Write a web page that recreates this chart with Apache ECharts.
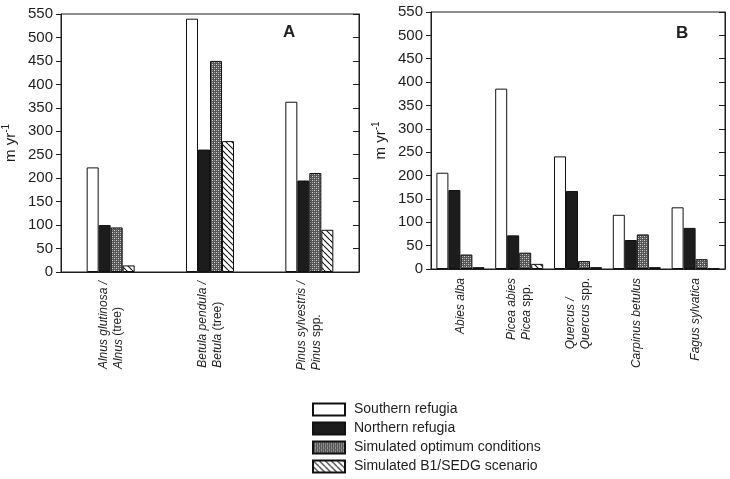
<!DOCTYPE html>
<html>
<head>
<meta charset="utf-8">
<script src="https://cdn.jsdelivr.net/npm/echarts@6/dist/echarts.min.js"></script>
<style>
  html, body { margin: 0; padding: 0; background: #fff; }
  #chart { width: 730px; height: 479px; }
</style>
</head>
<body>
<div id="chart"></div>
<script>
// Panel A: tree taxa
const catsA = [
  "{i|Alnus glutinosa /}\n{i|Alnus }{n|(tree)}",
  "{i|Betula pendula /}\n{i|Betula }{n|(tree)}",
  "{i|Pinus sylvestris /}\n{i|Pinus }{n|spp.}",
];
const southernA = [223, 540, 363];
const northernA = [100, 261, 195];
const optimumA = [95, 450, 211];
const b1A = [14, 279, 90];

// Panel B: forest taxa
const catsB = [
  "{i|Abies alba}",
  "{i|Picea abies}\n{i|Picea }{n|spp.}",
  "{i|Quercus /}\n{i|Quercus }{n|spp.}",
  "{i|Carpinus betulus}",
  "{i|Fagus sylvatica}",
];
const southernB = [206, 386, 241, 116, 132];
const northernB = [169, 72, 167, 62, 88];
const optimumB = [31, 35, 17, 74, 21];
const b1B = [4, 11, 4, 4, 1];

const seriesNames = [
  "Southern refugia",
  "Northern refugia",
  "Simulated optimum conditions",
  "Simulated B1/SEDG scenario",
];
const yTicks = { min: 0, max: 550, interval: 50 };

const FONT = "'Liberation Sans', Arial, sans-serif";
const INK = "#1e1e1e";

// fill patterns for the two simulated series
function makeDots() {
  const c = document.createElement("canvas");
  c.width = 4; c.height = 4;
  const ctx = c.getContext("2d");
  ctx.fillStyle = "#555555";
  ctx.fillRect(0, 0, 4, 4);
  ctx.fillStyle = "#d8d8d8";
  ctx.fillRect(0, 0, 1, 1);
  ctx.fillRect(2, 2, 1, 1);
  ctx.fillStyle = "#9a9a9a";
  ctx.fillRect(2, 0, 1, 1);
  ctx.fillRect(0, 2, 1, 1);
  return c;
}
function makeHatch() {
  const s = 6;
  const c = document.createElement("canvas");
  c.width = s; c.height = s;
  const ctx = c.getContext("2d");
  ctx.fillStyle = "#fff";
  ctx.fillRect(0, 0, s, s);
  ctx.strokeStyle = "#111";
  ctx.lineWidth = 1.1;
  [-s, 0, s].forEach((x0) => {
    ctx.beginPath();
    ctx.moveTo(x0, 0);
    ctx.lineTo(x0 + s, s);
    ctx.stroke();
  });
  return c;
}

const fills = [
  "#ffffff",
  "#1c1c1c",
  { image: makeDots(), repeat: "repeat" },
  { image: makeHatch(), repeat: "repeat" },
];

const grids = [
  { left: 61, top: 14, width: 298, height: 258 },
  { left: 431, top: 12, width: 294, height: 257 },
];

const chart = echarts.init(document.getElementById("chart"), null, { renderer: "canvas" });

const labelRich = {
  i: { fontStyle: "italic", fontSize: 12, fontFamily: FONT, color: INK, align: "left", lineHeight: 15 },
  n: { fontStyle: "normal", fontSize: 12, fontFamily: FONT, color: INK, align: "left", lineHeight: 15 },
};

const xAxes = [catsA, catsB].map((cats, gi) => ({
  type: "category",
  gridIndex: gi,
  data: cats,
  axisLine: { lineStyle: { color: INK, width: 1 } },
  axisTick: { show: false },
  axisLabel: {
    rotate: 90,
    interval: 0,
    margin: 9,
    rich: labelRich,
    fontFamily: FONT,
    fontSize: 12,
    color: INK,
  },
  splitLine: { show: false },
}));

const yAxes = [];
[0, 1].forEach((gi) => {
  yAxes.push({
    type: "value",
    gridIndex: gi,
    position: "left",
    ...yTicks,
    name: "m yr{sup|-1}",
    nameLocation: "middle",
    nameGap: 40,
    nameTextStyle: {
      fontFamily: FONT,
      fontSize: 15,
      color: INK,
      rich: {
        sup: { fontSize: 10, fontFamily: FONT, color: INK, verticalAlign: "top", lineHeight: 20 },
      },
    },
    axisLine: { show: true, lineStyle: { color: INK, width: 1 } },
    axisTick: { show: true, inside: false, length: 5, lineStyle: { color: INK } },
    axisLabel: { fontFamily: FONT, fontSize: 15, color: INK, margin: 8 },
    splitLine: { show: false },
  });
  yAxes.push({
    type: "value",
    gridIndex: gi,
    position: "right",
    ...yTicks,
    axisLine: { show: true, lineStyle: { color: INK, width: 1 } },
    axisTick: { show: true, inside: true, length: 6, lineStyle: { color: INK } },
    axisLabel: { show: false },
    splitLine: { show: false },
  });
});

const panelData = [
  [southernA, northernA, optimumA, b1A],
  [southernB, northernB, optimumB, b1B],
];

const series = [];
panelData.forEach((sets, gi) => {
  sets.forEach((vals, si) => {
    series.push({
      name: seriesNames[si],
      type: "bar",
      xAxisIndex: gi,
      yAxisIndex: gi * 2,
      data: vals,
      barWidth: 12,
      barGap: "0%",
      itemStyle: { color: fills[si], borderColor: "#111", borderWidth: 1 },
      emphasis: { disabled: true },
    });
  });
});

chart.setOption({
  animation: false,
  grid: grids.map((g) => ({
    ...g,
    show: true,
    borderColor: INK,
    borderWidth: 1,
    backgroundColor: "transparent",
    containLabel: false,
    outerBoundsMode: "none",
  })),
  xAxis: xAxes,
  yAxis: yAxes,
  legend: {
    data: seriesNames,
    orient: "vertical",
    left: 312,
    top: 401,
    bottom: 0,
    icon: "rect",
    itemWidth: 32,
    itemHeight: 12,
    itemGap: 2,
    padding: 0,
    selectedMode: false,
    textStyle: { fontFamily: FONT, fontSize: 14, lineHeight: 17, color: INK, padding: [0, 0, 0, 4] },
  },
  graphic: [
    { type: "text", left: 283, top: 24, style: { text: "A", font: "bold 17px " + FONT, fill: INK } },
    { type: "text", left: 676, top: 25, style: { text: "B", font: "bold 17px " + FONT, fill: INK } },
  ],
  series,
});
</script>
</body>
</html>
